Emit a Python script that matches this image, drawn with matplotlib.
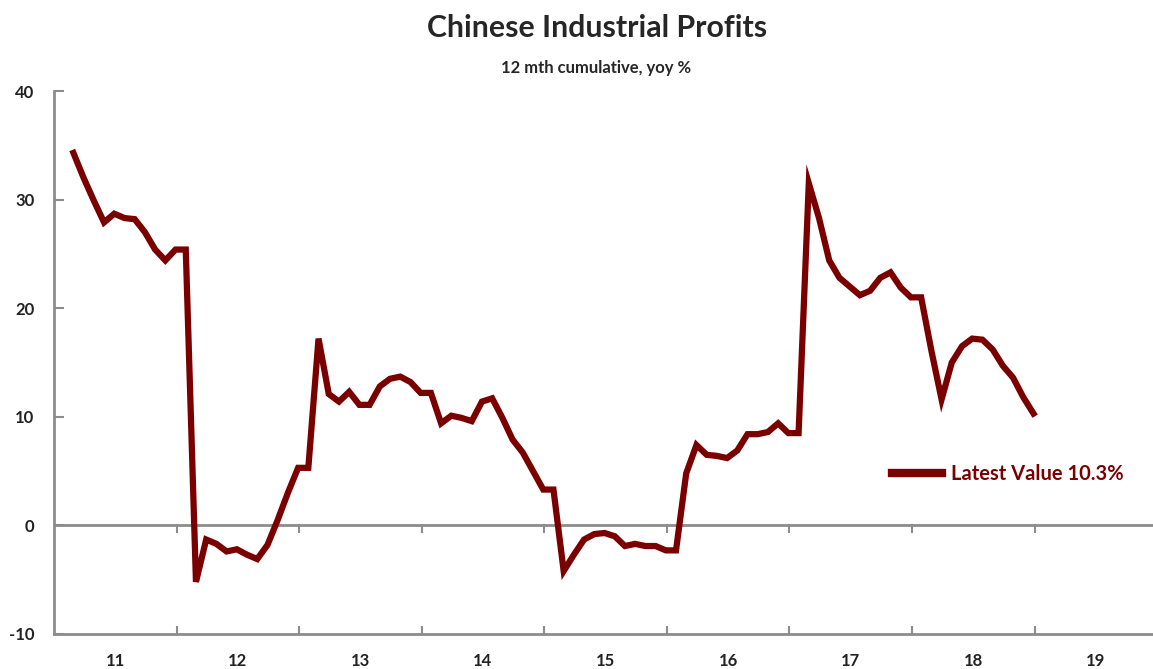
import numpy as np
import matplotlib
matplotlib.use("Agg")
import matplotlib.pyplot as plt

# 12 mth cumulative yoy %, Feb 2011 .. Dec 2018 (Jan carried from Dec)
y2011 = [34.3, 32.0, 29.9, 27.9, 28.7, 28.3, 28.2, 27.0, 25.4, 24.4, 25.4]
y2012 = [25.4, -5.2, -1.3, -1.7, -2.4, -2.2, -2.7, -3.1, -1.8, 0.5, 3.0, 5.3]
y2013 = [5.3, 17.2, 12.1, 11.4, 12.3, 11.1, 11.1, 12.8, 13.5, 13.7, 13.2, 12.2]
y2014 = [12.2, 9.4, 10.1, 9.9, 9.6, 11.4, 11.7, 9.9, 7.9, 6.7, 5.0, 3.3]
y2015 = [3.3, -4.2, -2.7, -1.3, -0.8, -0.7, -1.0, -1.9, -1.7, -1.9, -1.9, -2.3]
y2016 = [-2.3, 4.8, 7.4, 6.5, 6.4, 6.2, 6.9, 8.4, 8.4, 8.6, 9.4, 8.5]
y2017 = [8.5, 31.5, 28.3, 24.4, 22.8, 22.0, 21.2, 21.6, 22.8, 23.3, 21.9, 21.0]
y2018 = [21.0, 16.1, 11.6, 15.0, 16.5, 17.2, 17.1, 16.2, 14.7, 13.6, 11.8, 10.3]

year_labels = ["11", "12", "13", "14", "15", "16", "17", "18", "19"]
y_ticks = [-10, 0, 10, 20, 30, 40]
latest = 10.3

values = np.array(y2011 + y2012 + y2013 + y2014 + y2015 + y2016 + y2017 + y2018)
months = np.arange(1, 1 + len(values)) + 0.9  # month index, Feb 2011 = 1

plt.rcParams['font.family'] = ['Lato', 'DejaVu Sans']

red = "#7a0000"
grey = "#8c8c8c"

fig = plt.figure(figsize=(11.53, 6.69), dpi=100)
ax = fig.add_axes([54 / 1153, 35 / 669, 1 - 54 / 1153, (634 - 91) / 669])

ax.plot(months, values, color=red, lw=4.5, solid_joinstyle="miter",
        label=f"Latest Value {latest}%")

ax.set_xlim(0, 107.6)
ax.set_ylim(-10, 40)

# zero line with small downward ticks at year boundaries
bounds = np.arange(12, 12 * len(year_labels), 12)
ax.axhline(0, color=grey, lw=2, zorder=1)
for b in bounds:
    ax.plot([b, b], [0, -0.6], color=grey, lw=1.5, zorder=1)

ax.set_xticks(bounds)
ax.set_xticklabels([])
ax.set_xticks(np.arange(len(year_labels)) * 12 + 6, minor=True)
ax.set_xticklabels(year_labels, minor=True, fontsize=12, fontweight="bold", color="#222222")
ax.tick_params(axis="x", which="major", direction="in", length=6, width=1.5, color=grey)
ax.tick_params(axis="x", which="minor", length=0, pad=14)

ax.set_yticks(y_ticks)
ax.set_yticklabels([str(t) for t in y_ticks], fontsize=12, fontweight="bold", color="#222222")
ax.tick_params(axis="y", direction="in", length=7, width=1.5, color=grey, pad=14)

for s in ["top", "right"]:
    ax.spines[s].set_visible(False)
for s in ["left", "bottom"]:
    ax.spines[s].set_color(grey)
    ax.spines[s].set_linewidth(2)

leg = ax.legend(loc="center left", bbox_to_anchor=(892 / 1153, 1 - 474 / 669),
                bbox_transform=fig.transFigure, frameon=False, handlelength=2.5,
                handletextpad=0.45, borderpad=0, borderaxespad=0,
                prop={"size": 14.5, "weight": "bold"})
for line in leg.get_lines():
    line.set_linewidth(6)
for t in leg.get_texts():
    t.set_color(red)

fig.text(597 / 1153, 1 - 28 / 669, "Chinese Industrial Profits", ha="center", va="center",
         fontsize=21.8, color="#262626", fontweight="bold")
fig.text(596 / 1153, 1 - 68 / 669, "12 mth cumulative, yoy %", ha="center", va="center",
         fontsize=12, color="#262626", fontweight="bold")

fig.savefig("out.png", dpi=100)
